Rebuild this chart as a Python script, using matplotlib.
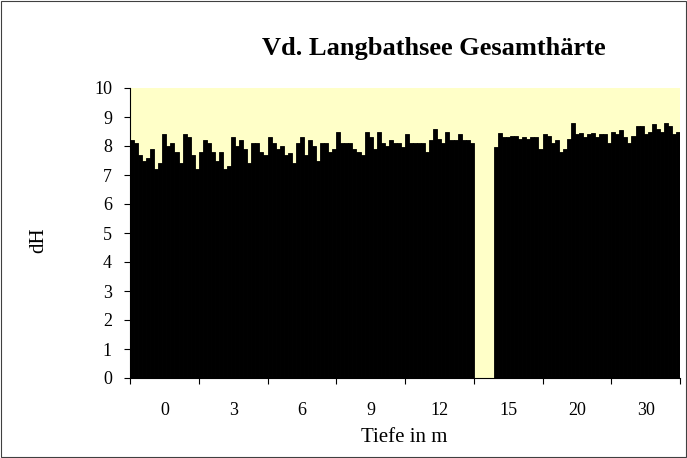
import numpy as np
import matplotlib
matplotlib.use("Agg")
import matplotlib.pyplot as plt
from matplotlib.patches import Rectangle

plt.rcParams["font.family"] = ["Liberation Serif", "DejaVu Serif"]

# depth categories (m) on the x axis
depths = ["0", "3", "6", "9", "12", "15", "20", "30"]

# hardness (dH) per depth, one value per sampling date (17 dates)
nan = float("nan")
dh_0 = [8.2, 8.1, 7.7, 7.5, 7.6, 7.9, 7.2, 7.4, 8.4, 8.0, 8.1, 7.8, 7.4, 8.4, 8.3, 7.7, 7.2]
dh_3 = [7.8, 8.2, 8.1, 7.8, 7.5, 7.8, 7.2, 7.3, 8.3, 8.0, 8.2, 7.9, 7.4, 8.1, 8.1, 7.8, 7.7]
dh_6 = [8.3, 8.1, 7.9, 8.0, 7.7, 7.75, 7.4, 8.1, 8.3, 7.7, 8.2, 8.0, 7.5, 8.1, 8.1, 7.8, 7.9]
dh_9 = [8.5, 8.1, 8.1, 8.1, 7.9, 7.8, 7.7, 8.5, 8.3, 7.9, 8.5, 8.1, 8.0, 8.2, 8.1, 8.1, 7.95]
dh_12 = [8.4, 8.1, 8.1, 8.1, 8.1, 7.8, 8.2, 8.6, 8.25, 8.1, 8.5, 8.2, 8.2, 8.4, 8.2, 8.2, 8.1]
dh_15 = [nan, nan, nan, nan, nan, 7.98, 8.45, 8.3, 8.3, 8.35, 8.35, 8.25, 8.3, 8.25, 8.3, 8.3, 7.9]
dh_20 = [8.4, 8.35, 8.1, 8.2, 7.8, 7.9, 8.25, 8.8, 8.4, 8.45, 8.3, 8.4, 8.45, 8.3, 8.4, 8.4, 8.1]
dh_30 = [8.5, 8.4, 8.55, 8.3, 8.1, 8.35, 8.7, 8.7, 8.4, 8.5, 8.75, 8.6, 8.5, 8.8, 8.7, 8.4, 8.5]

data = [dh_0, dh_3, dh_6, dh_9, dh_12, dh_15, dh_20, dh_30]

fig = plt.figure(figsize=(6.87, 4.58), dpi=100)
ax = fig.add_axes([130 / 687, 80 / 458, 550 / 687, 290 / 458])
ax.set_facecolor("#FFFFC8")

n = len(dh_0)
w = 1.0 / n
for c, vals in enumerate(data):
    xs = c - 0.5 + w * (np.arange(n) + 0.5)
    ax.bar(xs, vals, width=w, color="black", edgecolor="black", linewidth=0.6)

ax.set_xlim(-0.5, len(depths) - 0.5)
ax.set_ylim(0, 10)
ax.set_yticks(range(0, 11))
ax.tick_params(axis="y", labelsize=13, length=4, width=0.8, direction="out", pad=9)

# category boundary ticks, labels in the middle
ax.set_xticks(np.arange(len(depths) + 1) - 0.5)
ax.set_xticklabels([])
ax.set_xticks(np.arange(len(depths)), minor=True)
ax.set_xticklabels(depths, minor=True)
ax.tick_params(axis="x", which="major", length=4, width=0.8, direction="out")
ax.tick_params(axis="x", which="minor", length=0, labelsize=13, pad=17)

for s in ["top", "right"]:
    ax.spines[s].set_visible(False)
ax.spines["left"].set_linewidth(0.8)
ax.spines["bottom"].set_linewidth(0.8)

fig.text(434 / 687, 1 - 48 / 458, "Vd. Langbathsee Gesamthärte",
         ha="center", va="center", fontsize=19, fontweight="bold")
fig.text(39 / 687, 1 - 240 / 458, "dH", ha="center", va="center",
         rotation=90, fontsize=15)
fig.text(404 / 687, 1 - 438 / 458, "Tiefe in m", ha="center", va="center",
         fontsize=15)

fig.patches.append(Rectangle((0.001, 0.002), 0.997, 0.996, transform=fig.transFigure,
                             fill=False, edgecolor="#404040", linewidth=0.8))

fig.savefig("out.png", dpi=100)
